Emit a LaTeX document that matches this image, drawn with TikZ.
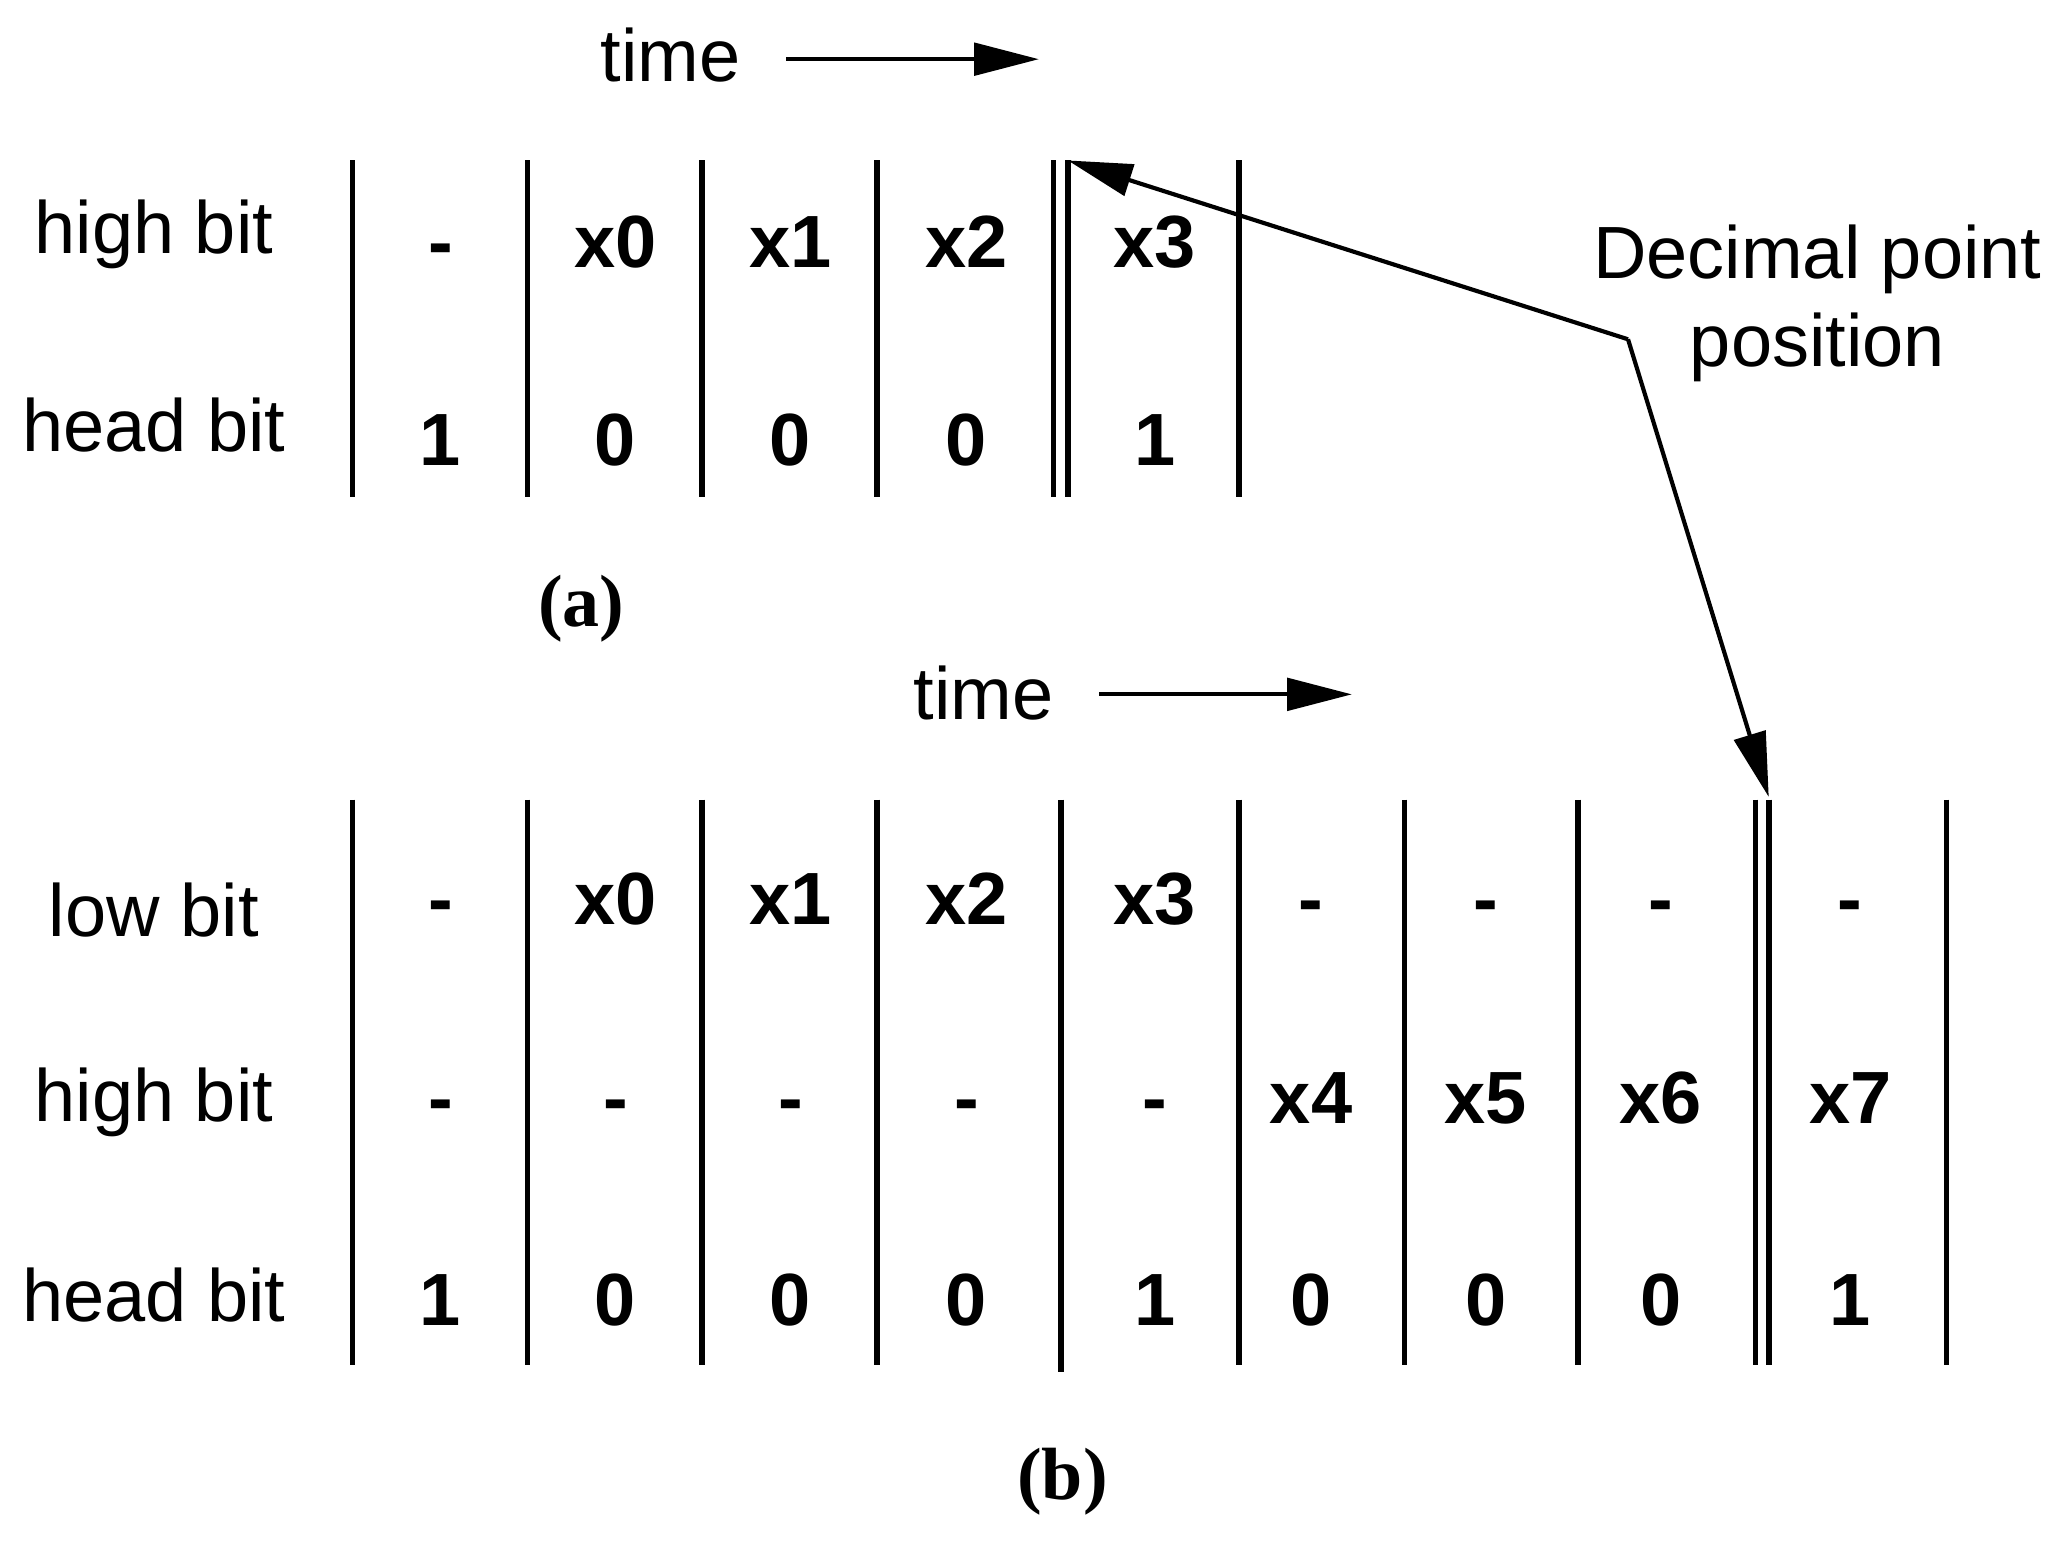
\documentclass[tikz,border=0pt]{standalone}
\usepackage{fontspec}
\setmainfont{Liberation Sans}
\newfontfamily\serifp{Liberation Serif}
\usetikzlibrary{arrows.meta}
\begin{document}
\begin{tikzpicture}[x=0.01cm,y=-0.01cm,
  lab/.style={font=\fontsize{16}{19}\selectfont},
  cell/.style={font=\fontsize{16}{19}\selectfont\bfseries,text height=12pt,text depth=0pt,inner sep=0pt},
  captxt/.style={font=\fontsize{16}{19}\selectfont\serifp\bfseries},
  vl/.style={line width=1.2pt},
  arr/.style={line width=0.9pt,-{Triangle[length=14pt,width=7pt]}}]
\useasboundingbox (0,0) rectangle (1568,1175.6);
% top
\node[lab] (t1) at (510,42) {time};
\coordinate (t1a) at (598,45); \coordinate (t1b) at (790,45);
\draw[arr] (t1a) -- (t1b);
\foreach \x in {268,401,534,667,801,812,942} \draw[vl] (\x,122) -- (\x,378);
\node[lab] (ahb) at (117,178) {high bit};
\node[lab] (ahd) at (117,323) {head bit};
\foreach \x/\a/\b [count=\i] in {335/-/1,468/x0/0,601/x1/0,735/x2/0,878/x3/1}{
  \node[cell] (ah\i) at (\x,182) {\a};
  \node[cell] (ad\i) at (\x,333) {\b};}
\node[captxt] (capa) at (442,463) {(a)};
% bottom
\node[lab] (t2) at (748,527) {time};
\coordinate (t2a) at (836,528); \coordinate (t2b) at (1028,528);
\draw[arr] (t2a) -- (t2b);
\foreach \x in {268,401,534,667,942,1068,1200,1335,1345,1480} \draw[vl] (\x,608) -- (\x,1038);
\draw[vl] (807,608) -- (807,1043);
\node[lab] (blb) at (117,692) {low bit};
\node[lab] (bhb) at (117,838) {high bit};
\node[lab] (bhd) at (117,985) {head bit};
\foreach \x/\a/\b/\c [count=\i] in {335/-/-/1,468/x0/-/0,601/x1/-/0,735/x2/-/0,878/x3/-/1,997/-/x4/0,1130/-/x5/0,1263/-/x6/0,1407/-/x7/1}{
  \node[cell] (bl\i) at (\x,682) {\a};
  \node[cell] (bh\i) at (\x,833) {\b};
  \node[cell] (bd\i) at (\x,987) {\c};}
\node[captxt] (capb) at (808,1127) {(b)};
% decimal point
\node[lab,align=center] (dp) at (1382,231) {Decimal point\\position};
\coordinate (k) at (1238,258);
\coordinate (e1) at (812,122); \coordinate (e2) at (1345,606);
\draw[arr] (k) -- (e1);
\draw[arr] (k) -- (e2);
\end{tikzpicture}
\end{document}
